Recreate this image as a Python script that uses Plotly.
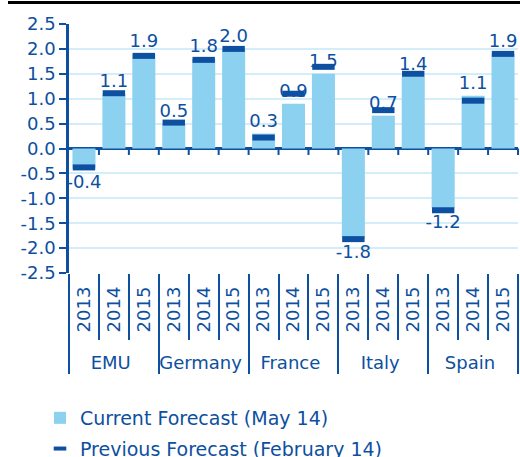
import plotly.graph_objects as go

countries = ["EMU"] * 3 + ["Germany"] * 3 + ["France"] * 3 + ["Italy"] * 3 + ["Spain"] * 3
years = ["2013", "2014", "2015"] * 5
current = [-0.4, 1.1, 1.9, 0.5, 1.8, 2.0, 0.3, 0.9, 1.5, -1.8, 0.66, 1.44, -1.2, 1.06, 1.9]
previous = [-0.38, 1.11, 1.86, 0.52, 1.78, 2.0, 0.22, 1.1, 1.64, -1.82, 0.77, 1.5, -1.24, 0.96, 1.9]
y_ticks = [2.5, 2.0, 1.5, 1.0, 0.5, 0.0, -0.5, -1.0, -1.5, -2.0, -2.5]

DARK = "#0D4FA0"
LIGHT = "#8DD1F1"
GRID = "#D3EDF9"
FONT = "DejaVu Sans"

# non-breaking padding lengthens the rotated year labels so the country row sits lower
pad = "\u00a0\u00a0"
xcats = [countries, [pad + y for y in years]]

fig = go.Figure()
fig.add_trace(go.Bar(
    x=xcats, y=current, name="Current Forecast (May 14)",
    marker=dict(color=LIGHT, line=dict(width=0)),
    texttemplate="%{y:.1f}", textposition="outside", cliponaxis=False,
    constraintext="none", textfont=dict(color=DARK, size=18, family=FONT),
    legendgroup="a",
))
fig.add_trace(go.Scatter(
    x=xcats, y=previous, name="Previous Forecast (February 14)",
    mode="markers", showlegend=False,
    marker=dict(symbol="line-ew", size=16, line=dict(width=6, color=DARK), color=DARK),
    cliponaxis=False, legendgroup="b",
))
# legend entry with a short dash like the reference
fig.add_trace(go.Scatter(
    x=[None], y=[None], name="Previous Forecast (February 14)",
    mode="markers", legendgroup="b",
    marker=dict(symbol="line-ew", size=9, line=dict(width=4, color=DARK), color=DARK),
))

n = len(years)
shapes = [dict(type="line", xref="paper", yref="paper",
               x0=(8 - 69) / 449, x1=(520 - 69) / 449,
               y0=(273 - 2.5) / 249, y1=(273 - 2.5) / 249,
               line=dict(color="black", width=3))]
# small tick marks along the zero line at category boundaries
for i in range(1, n + 1):
    shapes.append(dict(type="line", xref="paper", yref="y",
                       x0=i / n, x1=i / n, y0=0, y1=-0.13,
                       line=dict(color=DARK, width=2)))

fig.update_layout(
    width=520, height=457,
    margin=dict(l=69, r=2, t=24, b=184, autoexpand=False),
    paper_bgcolor="white", plot_bgcolor="white",
    font=dict(family=FONT, color=DARK, size=18),
    bargap=0.23,
    showlegend=True,
    legend=dict(
        orientation="v", xref="container", yref="container",
        x=40 / 520, y=1 - 399 / 457, xanchor="left", yanchor="top",
        traceorder="grouped", tracegroupgap=3,
        font=dict(size=19, color=DARK, family=FONT),
        bgcolor="rgba(0,0,0,0)",
    ),
    xaxis=dict(
        type="multicategory", tickangle=-90, range=[-0.5, n - 0.5],
        showgrid=False, showline=False, zeroline=False,
        ticks="outside", tickson="boundaries", ticklen=66, tickwidth=2, tickcolor=DARK,
        ticklabelstandoff=9,
        showdividers=True, dividercolor=DARK, dividerwidth=2,
        tickfont=dict(size=18, color=DARK, family=FONT),
    ),
    yaxis=dict(
        range=[-2.5, 2.5], tickvals=y_ticks, ticktext=[f"{v:.1f}" for v in y_ticks],
        showgrid=True, gridcolor=GRID, gridwidth=2,
        zeroline=True, zerolinecolor=DARK, zerolinewidth=2.5,
        showline=True, linecolor=DARK, linewidth=2.5,
        ticks="outside", ticklen=7, tickwidth=2, tickcolor=DARK,
        tickfont=dict(size=18, color=DARK, family=FONT),
    ),
    shapes=shapes,
)

fig.write_html("out.html", config={"displayModeBar": False},
               post_script="document.body.style.margin='0px';")
